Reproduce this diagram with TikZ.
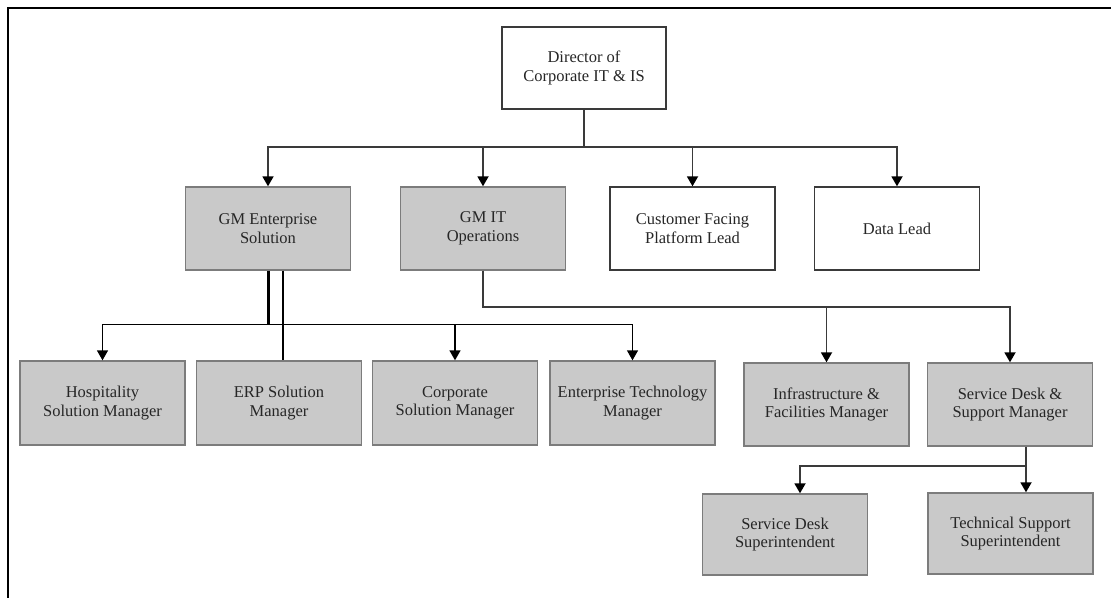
\documentclass[tikz,border=0pt]{standalone}
\usepackage{fontspec}
\setmainfont{Liberation Serif}
\usetikzlibrary{arrows.meta}
\definecolor{boxgray}{HTML}{C9C9C9}
\definecolor{edgegray}{HTML}{7C7C7C}
\definecolor{linegray}{HTML}{3A3A3A}
\definecolor{txt}{HTML}{262626}
\begin{document}
\begin{tikzpicture}[x=1pt,y=-1pt,
  box/.style={draw=edgegray, line width=1.4pt, fill=boxgray, minimum width=165pt,
    minimum height=83pt, inner sep=0pt, align=center, text=txt,
    font=\fontsize{16.5}{18.5}\selectfont},
  wbox/.style={box, fill=white, draw=linegray},
  conn/.style={draw=linegray, line width=1.8pt},
  arr/.style={conn, -{Triangle[width=11pt,length=10pt,color=black]}}]
\useasboundingbox (0,0) rectangle (1111,598);
\draw[line width=2.5pt] (1111,8) -- (8,8) -- (8,598);

\node[wbox, minimum width=164pt, minimum height=82pt] (dir) at (584,68) {Director of\\Corporate IT \& IS};
\node[box] (gme) at (268,228.5) {GM Enterprise\\Solution};
\node[box] (gmit) at (483,228.5) {GM IT\\Operations};
\node[wbox] (cfp) at (692.5,228.5) {Customer Facing\\Platform Lead};
\node[wbox] (data) at (897,228.5) {Data Lead};

\node[box, minimum height=84pt] (hosp) at (102.5,403) {Hospitality\\Solution Manager};
\node[box, minimum height=84pt] (erp) at (279,403) {ERP Solution\\Manager};
\node[box, minimum height=84pt] (corp) at (455,403) {Corporate\\Solution Manager};
\node[box, minimum height=84pt] (etm) at (632.5,403) {Enterprise Technology\\Manager};
\node[box] (infra) at (826.5,404.5) {Infrastructure \&\\Facilities Manager};
\node[box] (sdsm) at (1010,404.5) {Service Desk \&\\Support Manager};
\node[box, minimum height=81pt] (sds) at (785,534.5) {Service Desk\\Superintendent};
\node[box, minimum height=81pt] (tss) at (1010.5,533.5) {Technical Support\\Superintendent};

% Director
\draw[arr] (dir.south) -- ++(0,37) -| (gme.north);
\draw[arr] (dir.south) -- ++(0,37) -| (gmit.north);
\draw[arr] (dir.south) -- ++(0,37) -| (cfp.north);
\draw[arr] (dir.south) -- ++(0,37) -| (data.north);

% GM Enterprise
\path (gme.south) ++(0,54) coordinate (gmej);
\draw[line width=3pt, black] (gme.south) -- (gmej);
\draw[arr, draw=black, line width=1.4pt] (gmej) -| (hosp.north);
\draw[arr, draw=black, line width=1.4pt] (gmej) -| (corp.north);
\draw[arr, draw=black, line width=1.4pt] (gmej) -| (etm.north);
\path (gme.south) ++(15,0) coordinate (gmer);
\draw[black, line width=1.4pt] (gmer) -- (gmer |- erp.north);

% GM IT
\path (gmit.south) ++(0,36) coordinate (gmitj);
\draw[arr] (gmit.south) -- (gmitj) -| (infra.north);
\draw[arr] (gmit.south) -- (gmitj) -| (sdsm.north);

% Service desk & support
\path (sdsm.south) ++(16,0) coordinate (sdsmr);
\path (sdsmr) ++(0,19) coordinate (sdsmj);
\draw[arr] (sdsmr) -- (sdsmj) -| ([xshift=15pt]sds.north);
\draw[arr] (sdsmj) -- (sdsmr |- tss.north);
\end{tikzpicture}
\end{document}
